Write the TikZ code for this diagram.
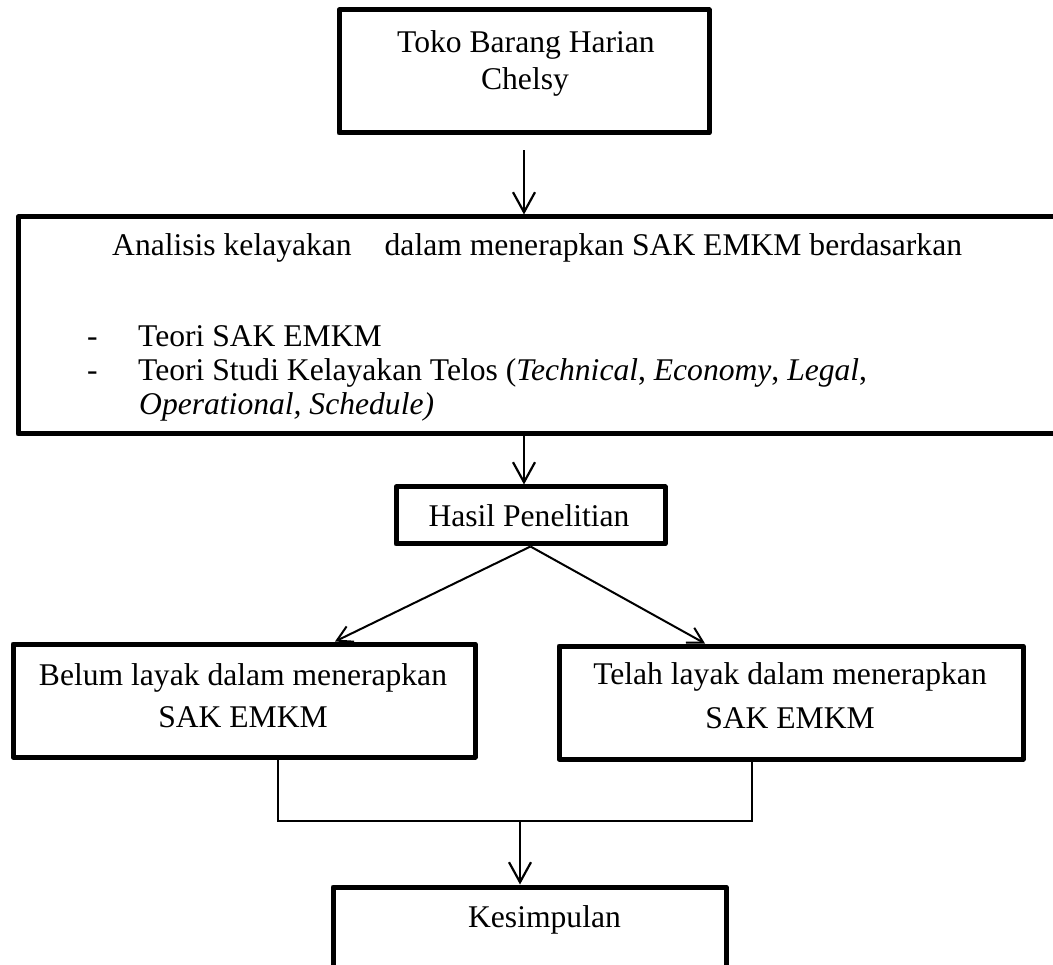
\documentclass[tikz,border=0pt]{standalone}
\usepackage{fontspec}
\setmainfont{Liberation Serif}
\usetikzlibrary{arrows.meta}
\begin{document}
\begin{tikzpicture}[x=1pt,y=-1pt,
  box/.style={draw, line width=5pt, line join=round, inner sep=0pt, rectangle},
  txt/.style={inner sep=0pt, font=\fontsize{31.6}{37}\selectfont},
  arr/.style={line width=2.2pt, -{Straight Barb[length=20pt,width=22pt]}},
  darr/.style={line width=2pt, -{Straight Barb[length=15pt,width=17pt]}},
  conn/.style={line width=1.3pt},
]
\clip (0,0) rectangle (1053,965);
% boxes
\node[box, minimum width=370pt, minimum height=123pt] (top) at (524,71.5) {};
\node[box, minimum width=1072pt, minimum height=217pt] (big) at (554,325.5) {};
\node[box, minimum width=269pt, minimum height=57pt] (hasil) at (530.5,515.5) {};
\node[box, minimum width=462pt, minimum height=113pt] (left) at (244,700.5) {};
\node[box, minimum width=464pt, minimum height=113pt] (right) at (791,702.5) {};
\node[box, minimum width=393pt, minimum height=113pt] (kes) at (529.5,943.5) {};
% texts
\node[txt, anchor=base] (t1) at (526,53) {Toko Barang Harian};
\node[txt, anchor=base] (t2) at (525,90) {Chelsy};
\node[txt, anchor=base west] (b1) at (112,256) {Analisis kelayakan\hspace*{25pt} dalam menerapkan SAK EMKM berdasarkan};
\node[txt, anchor=base west] (d1) at (87,347) {-};
\node[txt, anchor=base west] (b2) at (138,347) {Teori SAK EMKM};
\node[txt, anchor=base west] (d2) at (87,381) {-};
\node[txt, anchor=base west] (b3) at (138,381) {Teori Studi Kelayakan Telos (\textit{Technical}, \textit{Economy}, \textit{Legal},};
\node[txt, anchor=base west] (b4) at (139,415) {\textit{Operational, Schedule)}};
\node[txt, anchor=base] (h1) at (529,527) {Hasil Penelitian};
\node[txt, anchor=base] (l1) at (243,685) {Belum layak dalam menerapkan};
\node[txt, anchor=base] (l2) at (243,727) {SAK EMKM};
\node[txt, anchor=base] (r1) at (790,684) {Telah layak dalam menerapkan};
\node[txt, anchor=base] (r2) at (790,728) {SAK EMKM};
\node[txt, anchor=base] (k1) at (544.5,927) {Kesimpulan};
% connectors
\draw[arr] ([yshift=-15pt]top.south) -- (top.south |- big.north);
\draw[arr] (top.south |- big.south) -- (top.south |- hasil.north);
\draw[darr] (hasil.south) -- ([xshift=91pt]left.north);
\draw[darr] (hasil.south) -- ([xshift=-86pt]right.north);
\coordinate (j) at (520,821);
\draw[conn] ([xshift=34pt]left.south) |- (j) -| ([xshift=-39pt]right.south);
\draw[arr] (j) -- (j |- kes.north);
\end{tikzpicture}
\end{document}
